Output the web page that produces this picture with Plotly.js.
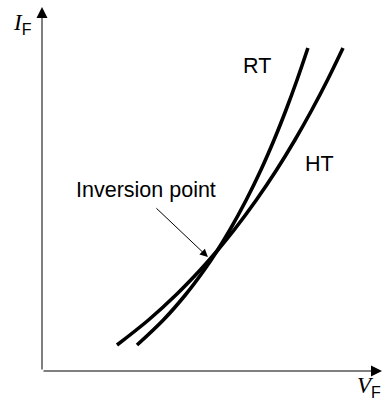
<!DOCTYPE html>
<html>
<head>
<meta charset="utf-8">
<script src="https://cdn.plot.ly/plotly-3.0.1.min.js"></script>
<style>
  html, body { margin: 0; padding: 0; background: #fff; }
  #chart { width: 385px; height: 405px; }
</style>
</head>
<body>
<div id="chart"></div>
<script>
// Forward current levels shared by both curves (arbitrary units)
const iF = [0.714, 1.401, 2.088, 2.775, 3.297, 3.874, 4.698, 5.522, 6.346, 7.170, 7.995, 8.874];

// Forward voltage at room temperature (RT) and high temperature (HT)
const vRT = [2.794, 3.568, 4.215, 4.771, 5.147, 5.524, 6.006, 6.438, 6.824, 7.176, 7.500, 7.821];
const vHT = [2.206, 3.132, 3.938, 4.653, 5.147, 5.650, 6.303, 6.897, 7.438, 7.935, 8.397, 8.853];

// Where the arrow of the callout ends, and where its tail starts
const inversionTip = [4.88, 3.13];
const inversionTail = [3.32, 4.51];

const curveLine = { color: '#000', width: 3.6, shape: 'spline', smoothing: 1.0 };

const traces = [
  { x: vRT, y: iF, mode: 'lines', line: curveLine, name: 'RT', hoverinfo: 'skip' },
  { x: vHT, y: iF, mode: 'lines', line: curveLine, name: 'HT', hoverinfo: 'skip' }
];

const sans = 'Liberation Sans, Arial, Helvetica, sans-serif';
const serif = 'Liberation Serif, Times New Roman, serif';
const labelFont = { family: sans, size: 21.5, color: '#000' };
const axisLabelFont = { family: serif, size: 23, color: '#000' };
const subText = t => '<span style="font-family:Liberation Sans, Arial, sans-serif;font-size:16px">' + t + '</span>';

const annotations = [
  // vertical axis with arrow
  { x: 0, y: 10, ax: 0, ay: 0, xref: 'x', yref: 'y', axref: 'x', ayref: 'y',
    text: '', showarrow: true, arrowhead: 2, arrowsize: 2.2, arrowwidth: 1, arrowcolor: '#000', standoff: 0 },
  // horizontal axis with arrow
  { x: 10, y: 0, ax: 0, ay: 0, xref: 'x', yref: 'y', axref: 'x', ayref: 'y',
    text: '', showarrow: true, arrowhead: 2, arrowsize: 2.2, arrowwidth: 1, arrowcolor: '#000', standoff: 0 },
  // axis labels
  { x: -0.09, y: 0.953, xref: 'paper', yref: 'paper', xanchor: 'left', yanchor: 'middle', showarrow: false,
    text: '<i>I</i><sub>' + subText('F') + '</sub>', font: axisLabelFont },
  { x: 1.004, y: -0.089, xref: 'paper', yref: 'paper', xanchor: 'right', yanchor: 'bottom', showarrow: false,
    text: '<i>V</i><sub>' + subText('F') + '</sub>', font: axisLabelFont },
  // curve labels
  { x: 6.32, y: 8.38, xref: 'x', yref: 'y', showarrow: false, text: 'RT', font: labelFont },
  { x: 8.15, y: 5.69, xref: 'x', yref: 'y', showarrow: false, text: 'HT', font: labelFont },
  // inversion point callout
  { x: 3.06, y: 4.97, xref: 'x', yref: 'y', showarrow: false, text: 'Inversion point', font: labelFont },
  { x: inversionTip[0], y: inversionTip[1], ax: inversionTail[0], ay: inversionTail[1],
    xref: 'x', yref: 'y', axref: 'x', ayref: 'y',
    text: '', showarrow: true, arrowhead: 2, arrowsize: 1.6, arrowwidth: 1, arrowcolor: '#000', standoff: 0 }
];

const layout = {
  width: 385,
  height: 405,
  margin: { l: 42, r: 3, t: 7, b: 34 },
  paper_bgcolor: '#fff',
  plot_bgcolor: '#fff',
  showlegend: false,
  xaxis: { range: [0, 10], visible: false, fixedrange: true },
  yaxis: { range: [0, 10], visible: false, fixedrange: true },
  annotations: annotations
};

Plotly.newPlot('chart', traces, layout, { displayModeBar: false, staticPlot: true });
</script>
</body>
</html>
